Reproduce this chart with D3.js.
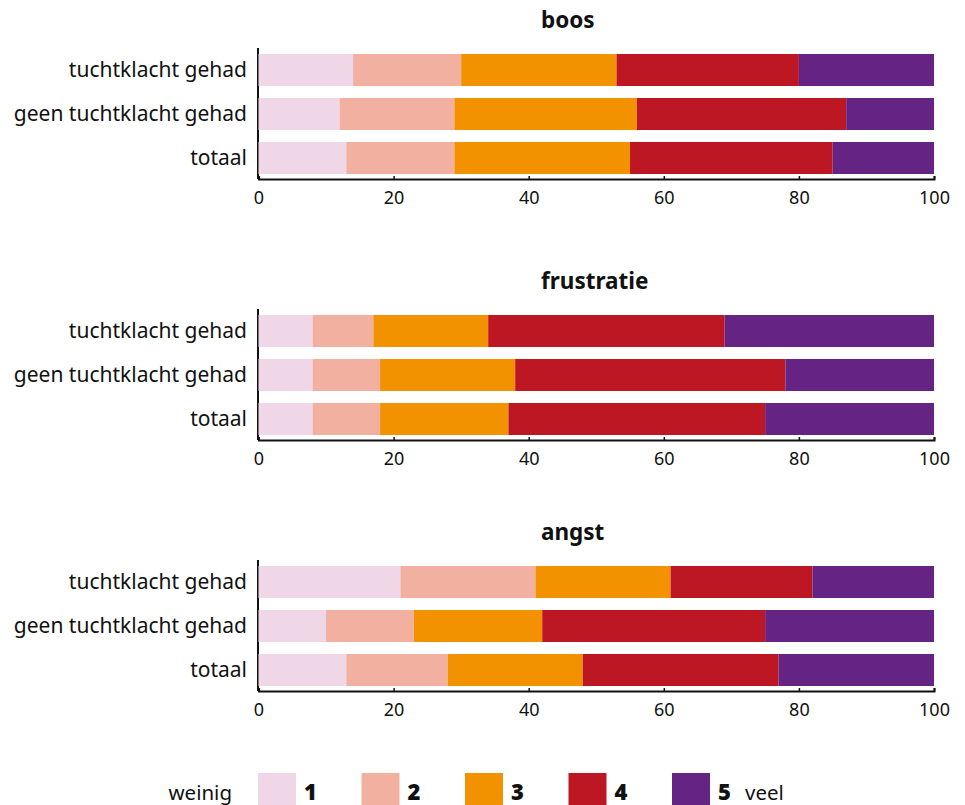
<!DOCTYPE html>
<html>
<head>
<meta charset="utf-8">
<script src="https://cdn.jsdelivr.net/npm/d3@7"></script>
<style>
  html, body { margin: 0; padding: 0; background: #fff; }
  svg { display: block; font-family: "Noto Sans", Lato, sans-serif; }
</style>
</head>
<body>
<svg id="chart" width="965" height="805"></svg>
<script>
// ---- data ----
const panels = ["boos", "frustratie", "angst"];
const categories = ["tuchtklacht gehad", "geen tuchtklacht gehad", "totaal"];
const levels = ["1", "2", "3", "4", "5"];
const colors = ["#efd7e8", "#f2b0a1", "#f29200", "#be1724", "#652483"];
const tickValues = [0, 20, 40, 60, 80, 100];

// values per panel: rows = categories, columns = levels 1..5 (percent)
const boos = [
  [14, 16, 23, 27, 20],
  [12, 17, 27, 31, 13],
  [13, 16, 26, 30, 15]
];
const frustratie = [
  [8, 9, 17, 35, 31],
  [8, 10, 20, 40, 22],
  [8, 10, 19, 38, 25]
];
const angst = [
  [21, 20, 20, 21, 18],
  [10, 13, 19, 33, 25],
  [13, 15, 20, 29, 23]
];
const panelData = [boos, frustratie, angst];

// ---- layout ----
const FONT = "'Noto Sans', Lato, sans-serif";
const svg = d3.select("#chart");
const x = d3.scaleLinear().domain([0, 100]).range([258.5, 934]);
const panelTops = [54, 315, 566];
const step = 44, barH = 32;

panels.forEach((name, p) => {
  const top = panelTops[p];
  const g = svg.append("g");
  const y = d3.scaleBand().domain(categories)
    .range([top, top + 2 * step + barH])
    .paddingInner((step - barH) / step).paddingOuter(0);
  const axisY = top + 125;

  // title
  g.append("text")
    .attr("x", 541).attr("y", top - 26)
    .attr("font-size", 22.5).attr("font-weight", 700)
    .attr("fill", "#111")
    .text(name);

  // y axis line
  g.append("line")
    .attr("x1", x(0) - 0.5).attr("x2", x(0) - 0.5)
    .attr("y1", top - 6).attr("y2", axisY)
    .attr("stroke", "#111").attr("stroke-width", 2);

  // bars
  const data = panelData[p];
  categories.forEach((c, ci) => {
    const stack = d3.cumsum(data[ci]);
    const row = data[ci].map((v, li) => ({ level: li, x0: stack[li] - v, x1: stack[li] }));
    g.selectAll(null).data(row).enter().append("rect")
      .attr("x", d => x(d.x0))
      .attr("width", d => x(d.x1) - x(d.x0))
      .attr("y", y(c))
      .attr("height", y.bandwidth())
      .attr("fill", d => colors[d.level]);
    g.append("text")
      .attr("x", 247).attr("y", y(c) + y.bandwidth() / 2)
      .attr("dy", "0.35em")
      .attr("text-anchor", "end")
      .attr("font-size", 21)
      .attr("fill", "#111")
      .text(c);
  });

  // x axis
  const ax = g.append("g").attr("transform", `translate(0,${axisY})`)
    .call(d3.axisBottom(x).tickValues(tickValues).tickSizeInner(-3).tickSizeOuter(-3).tickPadding(12));
  ax.select(".domain").attr("stroke", "#111").attr("stroke-width", 2);
  ax.selectAll(".tick line").attr("stroke", "#111").attr("stroke-width", 1.5);
  ax.selectAll(".tick text").attr("font-size", 18).attr("fill", "#111")
    .attr("font-family", FONT);
});

// ---- legend ----
const legend = svg.append("g");
const legX0 = 258, legStep = 103.5, swW = 38;
legend.append("text").attr("x", 232).attr("y", 800).attr("text-anchor", "end")
  .attr("font-size", 20.5).attr("fill", "#111").text("weinig");
levels.forEach((lv, i) => {
  const lx = legX0 + i * legStep;
  legend.append("rect").attr("x", lx).attr("y", 773).attr("width", swW).attr("height", 32).attr("fill", colors[i]);
  legend.append("text").attr("x", lx + swW + 8).attr("y", 800)
    .attr("font-size", 22).attr("font-weight", 900).attr("fill", "#111").text(lv);
});
legend.append("text").attr("x", legX0 + 4 * legStep + swW + 35).attr("y", 800)
  .attr("font-size", 20.5).attr("fill", "#111").text("veel");
</script>
</body>
</html>
